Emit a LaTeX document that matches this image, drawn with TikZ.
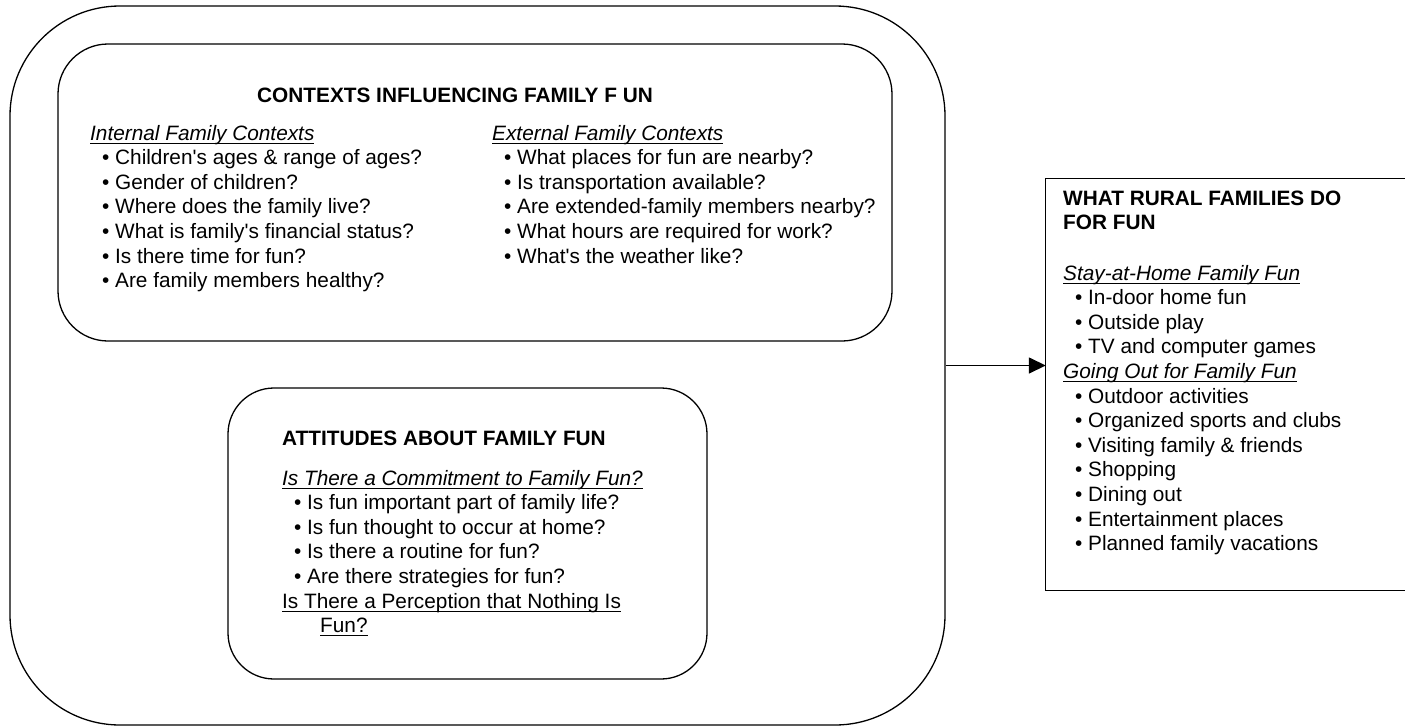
\documentclass[tikz,border=0pt]{standalone}
\usepackage{fontspec}
\setmainfont{Liberation Sans}
\usetikzlibrary{arrows.meta}
\newsavebox\ulbox
\newcommand\myul[1]{\sbox\ulbox{#1}\rlap{\rule[-3.8pt]{\wd\ulbox}{1.1pt}}\usebox\ulbox}
\newcommand\Lhead[1]{\hbox{\myul{\itshape #1}}}
\newcommand\Lplain[1]{\hbox{\myul{#1}}}
\newcommand\Lbul[1]{\hbox{\kern12pt\makebox[13pt][l]{•}#1}}
\newcommand\blk[1]{\vtop{\baselineskip=24.6pt\lineskiplimit=-20pt\lineskip=0pt #1}}
\newcommand\ap{\textquotesingle}
\tikzset{
  box/.style={draw, line width=1.3pt, inner sep=0pt},
  txt/.style={anchor=base west, inner sep=0pt, font=\fontsize{20.8}{24.6}\selectfont},
  hd/.style={txt, font=\fontsize{20.8}{24.6}\selectfont\bfseries},
  arr/.style={line width=1.5pt, -{Triangle[length=17pt,width=16pt]}}
}
\begin{document}
\begin{tikzpicture}[x=1pt,y=-1pt]
\useasboundingbox (0,0) rectangle (1405,726);
% boxes
\node[box, rounded corners=110pt, minimum width=935pt, minimum height=719pt] (outer) at (477.5,365.5) {};
\node[box, rounded corners=50pt, minimum width=834pt, minimum height=297pt] (ctx) at (475,192.5) {};
\node[box, rounded corners=46pt, minimum width=479pt, minimum height=291pt] (att) at (467.5,533.5) {};
\node[inner sep=0pt, minimum width=359pt, minimum height=411pt] (rbox) at (1225.5,384.5) {};
\draw[line width=1.3pt] (rbox.north east) -- (rbox.north west) -- (rbox.south west) -- (rbox.south east);
% arrow
\draw[arr] (outer.east) -- (outer.east -| rbox.west);
% contexts box
\node[hd] (ctxh) at (257,102) {CONTEXTS INFLUENCING FAMILY F UN};
\node[txt] (intl) at (90,140) {\blk{%
  \Lhead{Internal Family Contexts}
  \Lbul{Children\ap s ages \& range of ages?}
  \Lbul{Gender of children?}
  \Lbul{Where does the family live?}
  \Lbul{What is family\ap s financial status?}
  \Lbul{Is there time for fun?}
  \Lbul{Are family members healthy?}}};
\node[txt] (extl) at (492,140) {\blk{%
  \Lhead{External Family Contexts}
  \Lbul{What places for fun are nearby?}
  \Lbul{Is transportation available?}
  \Lbul{Are extended-family members nearby?}
  \Lbul{What hours are required for work?}
  \Lbul{What\ap s the weather like?}}};
% attitudes box
\node[hd] (atth) at (282,445) {ATTITUDES ABOUT FAMILY FUN};
\node[txt] (attl) at (282,485) {\blk{%
  \Lhead{Is There a Commitment to Family Fun?}
  \Lbul{Is fun important part of family life?}
  \Lbul{Is fun thought to occur at home?}
  \Lbul{Is there a routine for fun?}
  \Lbul{Are there strategies for fun?}
  \Lplain{Is There a Perception that Nothing Is}
  \hbox{\kern38pt\myul{Fun?}}}};
% right box
\node[hd] (rh) at (1063,205) {\blk{\hbox{WHAT RURAL FAMILIES DO}\hbox{FOR FUN}}};
\node[txt] (rl) at (1063,280) {\blk{%
  \Lhead{Stay-at-Home Family Fun}
  \Lbul{In-door home fun}
  \Lbul{Outside play}
  \Lbul{TV and computer games}
  \Lhead{Going Out for Family Fun}
  \Lbul{Outdoor activities}
  \Lbul{Organized sports and clubs}
  \Lbul{Visiting family \& friends}
  \Lbul{Shopping}
  \Lbul{Dining out}
  \Lbul{Entertainment places}
  \Lbul{Planned family vacations}}};
\end{tikzpicture}
\end{document}
